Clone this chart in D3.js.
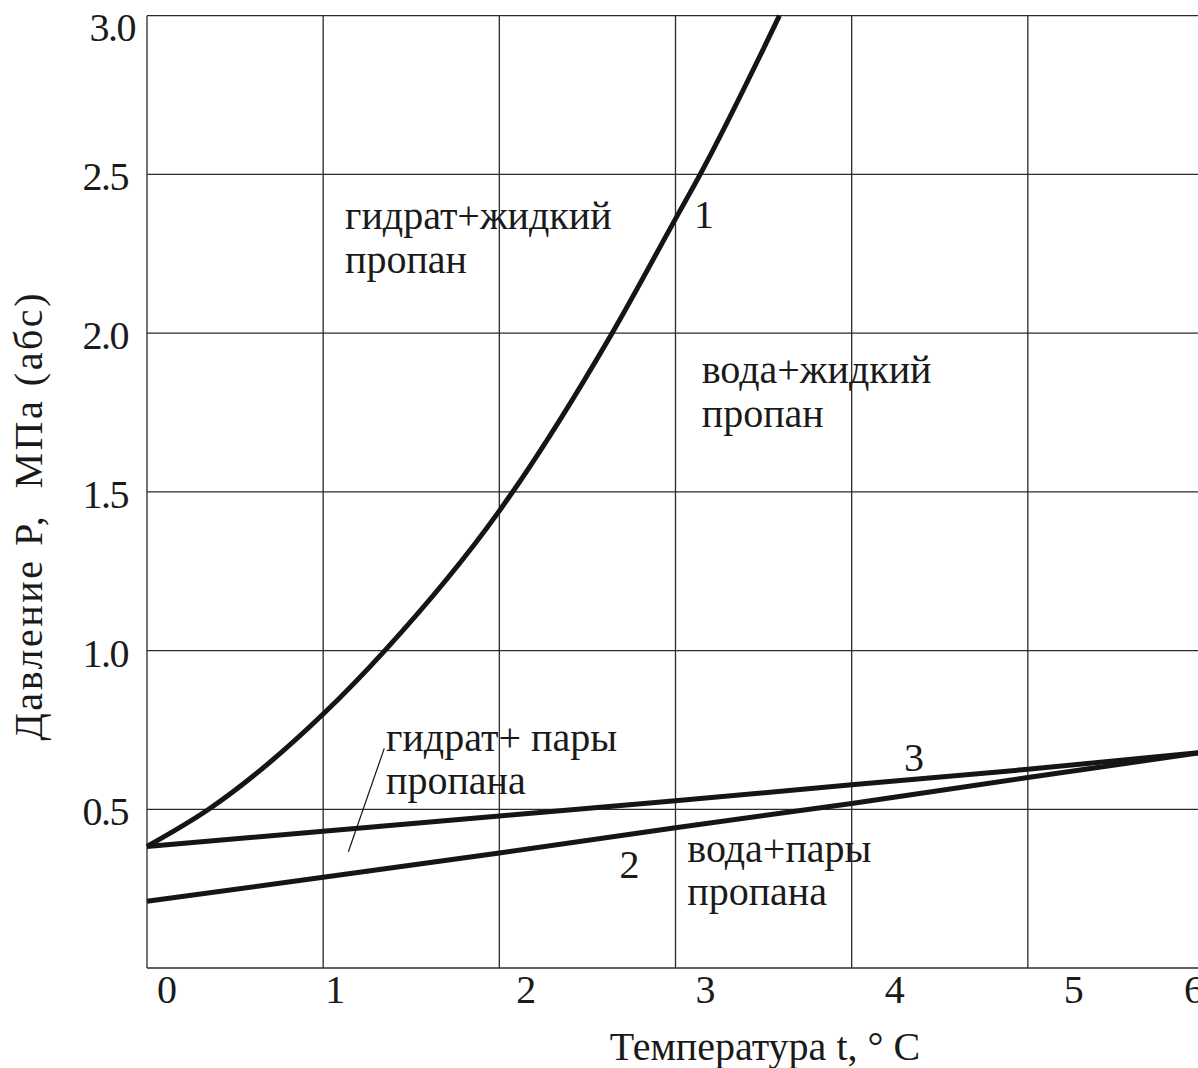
<!DOCTYPE html>
<html>
<head>
<meta charset="utf-8">
<script src="https://cdn.jsdelivr.net/npm/d3@7"></script>
<style>
  html, body { margin: 0; padding: 0; background: #fff; }
  svg { display: block; }
  text { font-family: "Liberation Serif", "Times New Roman", serif; fill: #1a1a1a; }
</style>
</head>
<body>
<svg id="chart" width="1198" height="1068"></svg>
<script>
// Axis ticks: temperature (°C) and pressure (MPa, abs)
const temperatureTicks = [0, 1, 2, 3, 4, 5, 6];
const pressureTicks = [0.5, 1.0, 1.5, 2.0, 2.5, 3.0];
const pressureGrid = [0, 0.5, 1.0, 1.5, 2.0, 2.5, 3.0];

// Curve 1: hydrate + liquid propane boundary
const curve1Temp = [0, 0.35, 1, 1.35, 2, 2.64, 3, 3.14, 3.59];
const curve1Pres = [0.383, 0.5, 0.80, 1.0, 1.44, 2.0, 2.36, 2.5, 3.0];

// Curve 2: water + propane vapour boundary
const curve2Temp = [0, 1, 2, 3, 4, 5, 6];
const curve2Pres = [0.210, 0.286, 0.362, 0.442, 0.518, 0.600, 0.680];

// Curve 3: hydrate + propane vapour boundary
const curve3Temp = [0, 1, 2, 3, 4, 5, 6];
const curve3Pres = [0.383, 0.431, 0.479, 0.527, 0.577, 0.626, 0.680];

// Texts
const xTitle = "Температура t, ° C";
const yTitle = "Давление Р,  МПа (абс)";
const regionTexts = [
  ["гидрат+жидкий", "пропан"],
  ["вода+жидкий", "пропан"],
  ["гидрат+ пары", "пропана"],
  ["вода+пары", "пропана"]
];
const curveNames = ["1", "2", "3"];

// ---- layout ----
const svg = d3.select("#chart");
const x = d3.scaleLinear().domain([0, 6]).range([147, 1204]);
const y = d3.scaleLinear().domain([0, 3]).range([968, 15.7]);
const fontSize = 40;
const lineGap = 43.5;
const gridColor = "#2b2b2b";
const curveColor = "#151515";

// grid
const grid = svg.append("g").attr("stroke", gridColor).attr("stroke-width", 1.3);
grid.selectAll("line.v").data(temperatureTicks).join("line")
  .attr("class", "v")
  .attr("x1", d => x(d)).attr("x2", d => x(d))
  .attr("y1", y(0)).attr("y2", y(3));
grid.selectAll("line.h").data(pressureGrid).join("line")
  .attr("class", "h")
  .attr("x1", x(0)).attr("x2", x(6))
  .attr("y1", d => y(d)).attr("y2", d => y(d));

// x tick labels (hand-set placement under each grid column)
const xLabelShift = [20, 12, 27, 30, 43, 46, -10];
svg.append("g").selectAll("text").data(temperatureTicks).join("text")
  .attr("x", (d, i) => x(d) + xLabelShift[i])
  .attr("y", y(0) + 35)
  .attr("text-anchor", "middle")
  .attr("font-size", fontSize)
  .text(d => d);

// y tick labels; the top one is pulled inside the frame
svg.append("g").selectAll("text").data(pressureTicks).join("text")
  .attr("x", d => d === 3 ? 135 : 128)
  .attr("y", d => Math.max(y(d) + 16, y(3) + 25))
  .attr("text-anchor", "end")
  .attr("font-size", fontSize)
  .attr("letter-spacing", -1.5)
  .text(d => d.toFixed(1));

// axis titles
svg.append("text")
  .attr("x", 765).attr("y", 1060)
  .attr("text-anchor", "middle")
  .attr("font-size", fontSize)
  .text(xTitle);

svg.append("text")
  .attr("transform", "translate(42," + 517 + ") rotate(-90)")
  .attr("text-anchor", "middle")
  .attr("font-size", fontSize)
  .attr("textLength", 447)
  .attr("lengthAdjust", "spacing")
  .style("white-space", "pre")
  .text(yTitle);

// curves
const line = d3.line().x(d => x(d[0])).y(d => y(d[1]));
const curves = [
  { pts: d3.zip(curve1Temp, curve1Pres), curve: d3.curveMonotoneX },
  { pts: d3.zip(curve2Temp, curve2Pres), curve: d3.curveLinear },
  { pts: d3.zip(curve3Temp, curve3Pres), curve: d3.curveLinear }
];
svg.append("g").selectAll("path").data(curves).join("path")
  .attr("d", c => line.curve(c.curve)(c.pts))
  .attr("fill", "none")
  .attr("stroke", curveColor)
  .attr("stroke-width", 5)
  .attr("stroke-linejoin", "round")
  .attr("stroke-linecap", "butt");

// region labels
const regionAnchors = [[1.124, 2.328], [3.149, 1.842], [1.357, 0.684], [3.067, 0.335]];
const regions = svg.append("g");
regionTexts.forEach((lines, i) => {
  const t = regions.append("text")
    .attr("font-size", fontSize)
    .attr("x", x(regionAnchors[i][0]))
    .attr("y", y(regionAnchors[i][1]));
  lines.forEach((s, j) => {
    t.append("tspan")
      .attr("x", x(regionAnchors[i][0]))
      .attr("dy", j === 0 ? 0 : lineGap)
      .text(s);
  });
});

// leader line for the hydrate + vapour region
svg.append("line")
  .attr("x1", x(1.347)).attr("y1", y(0.692))
  .attr("x2", x(1.143)).attr("y2", y(0.366))
  .attr("stroke", curveColor).attr("stroke-width", 1.2);

// curve numbers
const nameAnchors = [[3.162, 2.332], [2.739, 0.284], [4.354, 0.621]];
svg.append("g").selectAll("text").data(curveNames).join("text")
  .attr("x", (d, i) => x(nameAnchors[i][0]))
  .attr("y", (d, i) => y(nameAnchors[i][1]))
  .attr("text-anchor", "middle")
  .attr("font-size", fontSize)
  .text(d => d);
</script>
</body>
</html>
